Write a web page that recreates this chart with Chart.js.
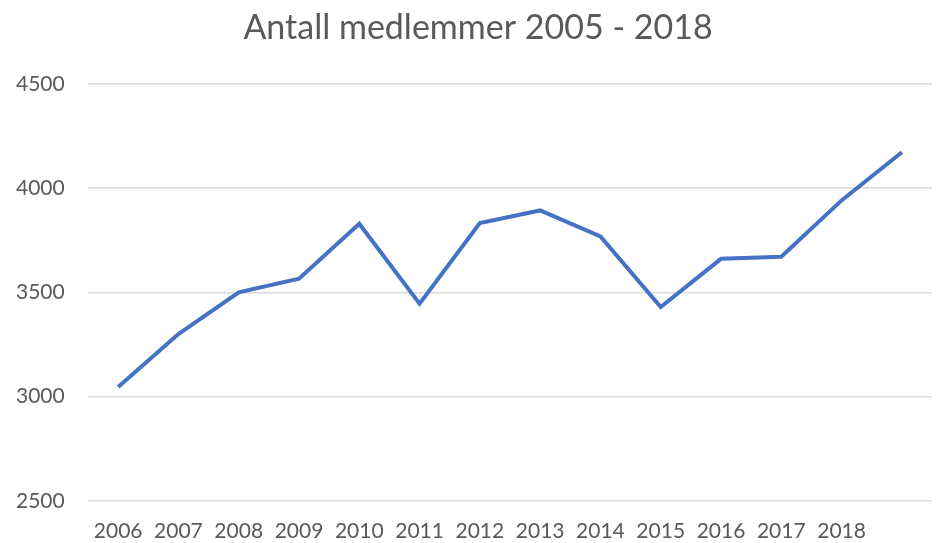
<!DOCTYPE html>
<html>
<head>
<meta charset="utf-8">
<script src="https://cdn.jsdelivr.net/npm/chart.js@4"></script>
<style>
html, body { margin: 0; padding: 0; background: #fff; }
#wrap { width: 939px; height: 543px; }
</style>
</head>
<body>
<div id="wrap"><canvas id="chart"></canvas></div>
<script>
const years = ['2006', '2007', '2008', '2009', '2010', '2011', '2012', '2013', '2014', '2015', '2016', '2017', '2018', ''];
const members = [3046, 3300, 3500, 3566, 3829, 3446, 3832, 3893, 3768, 3430, 3661, 3671, 3941, 4172];
const yTicks = [2500, 3000, 3500, 4000, 4500];

const textColor = '#595959';
const fontFamily = 'Lato, "Open Sans", sans-serif';

new Chart(document.getElementById('chart'), {
  type: 'line',
  data: {
    labels: years,
    datasets: [{
      label: 'Antall medlemmer',
      data: members,
      borderColor: '#4472C4',
      borderWidth: 4,
      pointRadius: 0,
      tension: 0,
      fill: false
    }]
  },
  options: {
    responsive: true,
    maintainAspectRatio: false,
    animation: false,
    // left padding keeps the title centred like the original
    layout: { padding: { left: 24, right: 7, top: 0, bottom: 0 } },
    plugins: {
      legend: { display: false },
      tooltip: { enabled: false },
      title: {
        display: true,
        text: 'Antall medlemmer 2005 - 2018',
        color: textColor,
        font: { family: fontFamily, size: 34, weight: 'normal' },
        padding: { top: 8, bottom: 35 }
      }
    },
    scales: {
      x: {
        offset: true,
        grid: { display: false, drawTicks: false },
        border: { display: false },
        ticks: {
          color: textColor,
          font: { family: fontFamily, size: 21 },
          autoSkip: false,
          maxRotation: 0,
          padding: 18
        },
        afterFit(scale) { scale.height = 42; }
      },
      y: {
        min: yTicks[0],
        max: yTicks[yTicks.length - 1],
        afterBuildTicks(scale) { scale.ticks = yTicks.map(v => ({ value: v })); },
        grid: { color: '#d9d9d9', lineWidth: 1.5, drawTicks: false },
        border: { display: false },
        ticks: {
          color: textColor,
          font: { family: fontFamily, size: 21 },
          mirror: true,
          padding: -72,
          callback: (v) => String(v)
        },
        afterFit(scale) { scale.width = 64; }
      }
    }
  }
});
</script>
</body>
</html>
